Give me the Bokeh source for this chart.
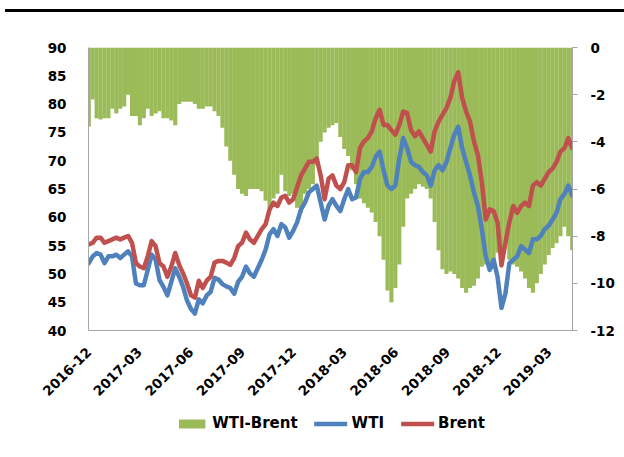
import math
import pandas as pd
from bokeh.plotting import figure
from bokeh.models import (Range1d, LinearAxis, FixedTicker, Legend, LegendItem,
                          ColumnDataSource, DatetimeTickFormatter)
from bokeh.layouts import column
from bokeh.embed import file_html
from bokeh.resources import INLINE

# ---------------- data (weekly readings, first week 2016-12-16) ----------------
start_date = "2016-12-16"

wti = [51.9, 53.1, 53.7, 53.4, 51.9, 53.1, 53.1, 53.4, 52.8, 53.4,
       54.0, 53.1, 48.3, 48.0, 48.0, 50.7, 53.4, 52.5, 48.9, 47.7,
       46.2, 48.6, 51.0, 49.5, 47.7, 45.3, 43.8, 43.0, 45.5, 44.8,
       46.2, 46.8, 49.3, 49.0, 48.2, 47.8, 47.5, 46.5, 48.6, 49.5,
       51.3, 50.1, 49.5, 51.0, 52.5, 54.3, 57.0, 57.9, 56.7, 58.8,
       58.2, 56.4, 57.6, 59.1, 61.4, 62.6, 64.4, 65.0, 65.6, 62.6,
       59.6, 62.0, 63.2, 62.0, 61.1, 63.2, 65.0, 63.2, 63.5, 66.8,
       68.0, 68.0, 68.9, 70.7, 71.6, 68.3, 65.6, 65.0, 65.6, 70.4,
       74.0, 72.2, 69.8, 69.2, 68.9, 68.0, 67.4, 65.6, 68.3, 69.2,
       68.3, 69.8, 72.2, 74.6, 76.0, 72.2, 69.8, 67.4, 64.4, 62.0,
       57.9, 53.1, 50.7, 52.5, 49.5, 44.0, 46.5, 51.9, 52.5, 53.1,
       54.9, 54.3, 53.7, 56.1, 56.1, 56.7, 57.9, 58.5, 59.6, 60.8,
       63.2, 64.1, 65.6, 63.8]

brent = [55.2, 55.5, 56.4, 56.4, 55.5, 55.8, 56.1, 56.4, 56.1, 56.4,
         56.7, 55.5, 51.9, 51.3, 51.0, 53.1, 55.8, 54.9, 51.9, 51.3,
         49.5, 51.3, 53.7, 51.6, 50.1, 48.3, 46.2, 45.8, 48.8, 47.5,
         48.8, 49.5, 52.0, 52.3, 52.3, 52.0, 51.6, 52.8, 54.9, 55.5,
         57.3, 56.1, 55.5, 56.7, 57.9, 58.8, 61.4, 62.6, 62.0, 63.5,
         63.8, 62.6, 63.2, 65.3, 67.4, 68.6, 69.8, 69.8, 70.4, 67.4,
         63.2, 66.8, 67.4, 65.6, 65.0, 66.2, 69.2, 69.2, 68.0, 72.2,
         73.4, 74.0, 75.2, 77.5, 79.0, 76.3, 76.3, 75.4, 74.6, 76.3,
         78.7, 78.4, 75.4, 74.3, 75.2, 74.0, 72.8, 71.6, 75.2, 76.9,
         78.1, 79.3, 81.1, 84.1, 85.6, 81.1, 78.7, 76.9, 73.4, 71.0,
         66.2, 59.6, 61.4, 61.1, 59.1, 51.5, 55.5, 59.1, 62.0, 60.8,
         62.0, 62.6, 62.0, 65.6, 66.2, 65.6, 66.8, 68.0, 68.6, 69.8,
         71.6, 72.2, 74.0, 72.2]

spread = [-3.35, -2.2, -3.0, -3.05, -3.0, -3.0, -2.6, -2.8, -2.6, -2.5,
          -2.0, -2.9, -2.9, -3.3, -3.0, -2.6, -2.9, -2.8, -2.7, -3.0,
          -3.0, -3.1, -3.3, -2.4, -2.3, -2.3, -2.3, -2.4, -2.6, -2.6,
          -2.5, -2.5, -2.7, -2.9, -3.4, -4.2, -4.8, -5.4, -6.0, -6.2,
          -6.3, -6.0, -6.0, -6.0, -6.1, -6.5, -6.8, -6.4, -6.2, -5.4,
          -6.1, -6.3, -6.2, -6.8, -7.0, -6.2, -6.0, -5.8, -5.0, -4.0,
          -3.6, -3.4, -3.3, -3.2, -3.8, -4.3, -4.6, -5.2, -5.8, -6.4,
          -6.6, -6.8, -7.0, -7.4, -8.0, -9.0, -10.3, -10.8, -10.2, -9.2,
          -7.6, -6.4, -6.2, -6.0, -5.8, -5.9, -6.0, -6.4, -7.4, -8.6,
          -9.4, -9.6, -9.5, -9.6, -9.8, -10.2, -10.4, -10.2, -10.1, -9.8,
          -9.3, -9.2, -9.3, -9.4, -8.7, -8.5, -8.4, -9.0, -9.2, -9.3,
          -9.5, -9.8, -10.2, -10.4, -10.0, -9.6, -9.2, -8.8, -8.5, -8.3,
          -8.0, -7.6, -8.0, -8.6]

tick_labels = ["2016-12", "2017-03", "2017-06", "2017-09", "2017-12",
               "2018-03", "2018-06", "2018-09", "2018-12", "2019-03"]
left_ticks = [40, 45, 50, 55, 60, 65, 70, 75, 80, 85, 90]
right_ticks = [-12, -10, -8, -6, -4, -2, 0]
series_names = ["WTI-Brent", "WTI", "Brent"]

# ---------------- styling ----------------
GREEN = "#9BBB59"
BLUE = "#4F81BD"
RED = "#C0504D"
AXIS_GRAY = "#A6A6A6"
FONT = "DejaVu Sans"
TICK_SIZE = "13.5px"
LINE_W = 4.5

dates = pd.date_range(start_date, periods=len(wti), freq="7D")
src = ColumnDataSource(dict(date=dates, wti=wti, brent=brent, spread=spread))
tick_dates = pd.to_datetime([t + "-16" for t in tick_labels])
tick_ms = [float(d.value // 10**6) for d in tick_dates]

half_day = pd.Timedelta(hours=12)
x_rng = Range1d((dates[0] - half_day).to_pydatetime(),
                (dates[-1] + half_day).to_pydatetime())
p = figure(frame_width=484, frame_height=280, x_axis_type="datetime",
           output_backend="svg", toolbar_location=None,
           x_range=x_rng, y_range=Range1d(40, 90),
           min_border_left=83, min_border_right=52,
           min_border_top=35, min_border_bottom=80)
p.margin = (9, 0, 0, 5)
p.styles = {"border-top": "3px solid black"}
p.extra_y_ranges = {"spread": Range1d(-12, 0)}
p.outline_line_color = None
p.background_fill_color = "white"
p.border_fill_color = "white"
p.xgrid.visible = False
p.ygrid.visible = False

week_ms = 7 * 24 * 3600 * 1000
bar_kw = dict(x="date", top=0, bottom="spread", width=week_ms * 1.05,
              fill_color=GREEN, line_color=None, source=src)
wti_kw = dict(x="date", y="wti", source=src, line_width=LINE_W, line_color=BLUE,
              line_join="round", line_cap="round")
brent_kw = dict(x="date", y="brent", source=src, line_width=LINE_W, line_color=RED,
                line_join="round", line_cap="round")

p.vbar(y_range_name="spread", **bar_kw)
p.line(**wti_kw)
p.line(**brent_kw)

def style_axis(ax):
    ax.axis_line_color = AXIS_GRAY
    ax.axis_line_width = 1
    ax.major_tick_line_color = AXIS_GRAY
    ax.minor_tick_line_color = None
    ax.major_label_text_font = FONT
    ax.major_label_text_font_style = "bold"
    ax.major_label_text_font_size = TICK_SIZE
    ax.major_label_text_color = "black"

# x axis
xa = p.xaxis[0]
style_axis(xa)
xa.ticker = FixedTicker(ticks=tick_ms)
fmt = "%Y-%m"
xa.formatter = DatetimeTickFormatter(microseconds=fmt, milliseconds=fmt, seconds=fmt,
                                     minsec=fmt, minutes=fmt, hourmin=fmt, hours=fmt,
                                     days=fmt, months=fmt, years=fmt)
xa.major_tick_out = 0
xa.major_tick_in = 0
xa.major_label_orientation = math.pi / 4
xa.major_label_standoff = 19

# left axis
ya = p.yaxis[0]
style_axis(ya)
ya.ticker = FixedTicker(ticks=left_ticks)
ya.major_tick_out = 0
ya.major_tick_in = 0
ya.major_label_standoff = 22

# right axis (ASCII hyphen-minus labels as in the reference)
ra = LinearAxis(y_range_name="spread", ticker=FixedTicker(ticks=right_ticks))
style_axis(ra)
ra.major_label_overrides = {t: str(t) for t in right_ticks}
ra.major_tick_out = 5
ra.major_tick_in = 0
ra.major_label_standoff = 13
p.add_layout(ra, "right")

# ---------------- legend strip below the chart ----------------
# Same series drawn in a strip whose y range lies outside the data, so only
# the legend swatches are visible.
lg = figure(frame_width=484, frame_height=32, output_backend="svg",
            toolbar_location=None, x_axis_location=None, y_axis_location=None,
            x_range=x_rng, y_range=Range1d(1000, 1001),
            min_border_left=83, min_border_right=52,
            min_border_top=0, min_border_bottom=0)
lg.margin = (0, 0, 0, 5)
lg.outline_line_color = None
lg.xgrid.visible = False
lg.ygrid.visible = False
k_bar = lg.vbar(**bar_kw)
k_wti = lg.line(**wti_kw)
k_brent = lg.line(**brent_kw)

legend = Legend(items=[LegendItem(label=series_names[0], renderers=[k_bar]),
                       LegendItem(label=series_names[1], renderers=[k_wti]),
                       LegendItem(label=series_names[2], renderers=[k_brent])],
                orientation="horizontal", location="center",
                border_line_color=None, background_fill_alpha=0,
                label_text_font=FONT, label_text_font_style="bold",
                label_text_font_size="15px", label_text_color="black",
                glyph_width=33, glyph_height=11, label_standoff=4,
                spacing=17, margin=0, padding=0)
lg.add_layout(legend)

layout = column(p, lg, spacing=0)
open("out.html", "w").write(file_html(layout, INLINE))
